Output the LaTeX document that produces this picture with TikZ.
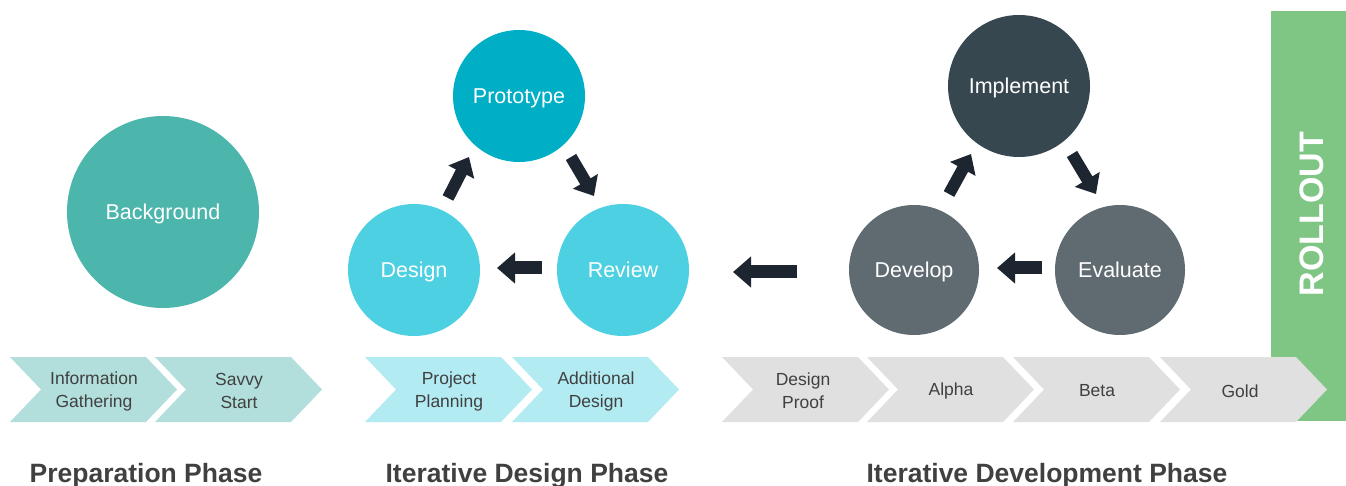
\documentclass[tikz,border=0pt]{standalone}
\usepackage{fontspec}
\setmainfont{Liberation Sans}
\usetikzlibrary{arrows.meta}
\definecolor{cBack}{HTML}{4DB6AC}
\definecolor{cProto}{HTML}{00AFC6}
\definecolor{cDes}{HTML}{4DD0E1}
\definecolor{cImpl}{HTML}{37474F}
\definecolor{cDev}{HTML}{5F6B71}
\definecolor{cArrow}{HTML}{1C2530}
\definecolor{cChevA}{HTML}{B2DFDB}
\definecolor{cChevB}{HTML}{B2EBF2}
\definecolor{cChevC}{HTML}{E0E0E0}
\definecolor{cRoll}{HTML}{7FC685}
\definecolor{cText}{HTML}{404040}
\newcommand{\chevron}[3]{% x, colour, name
  \fill[#2] (#1,357) -- ++(136,0) -- ++(31,32.5) -- ++(-31,32.5) -- ++(-136,0) -- ++(31,-32.5) -- cycle;
  \coordinate (#3) at (#1+84,391);
}
\begin{document}
\begin{tikzpicture}[x=1pt,y=-1pt,
  circ/.style={circle, draw=none, inner sep=0pt, text=white, text height=15.5pt, text depth=0pt, font=\fontsize{21.5}{25}\selectfont},
  chevlabel/.style={text=cText, align=center, inner sep=0pt, font=\fontsize{17.5}{23}\selectfont},
  phasetitle/.style={text=cText, anchor=base, inner sep=0pt, font=\fontsize{26.5}{30}\selectfont\bfseries},
  blockarrow/.style={draw=cArrow, line width=13pt, -{Triangle[width=30pt,length=18pt]}},
  smallarrow/.style={draw=cArrow, line width=12pt, -{Triangle[width=28pt,length=17pt]}}
]
\useasboundingbox (0,0) rectangle (1346,486);

% rollout bar
\fill[cRoll] (1271,11) rectangle (1346,421);
\node[rotate=90, text=white, inner sep=0pt, font=\fontsize{34}{40}\selectfont\bfseries] (rollout) at (1312,214) {ROLLOUT};

% circles
\node[circ, fill=cBack, minimum size=192pt] (background) at (163,212) {Background};
\node[circ, fill=cProto, minimum size=132pt] (prototype) at (519,96) {Prototype};
\node[circ, fill=cDes, minimum size=132pt] (design) at (414,270) {Design};
\node[circ, fill=cDes, minimum size=132pt] (review) at (623,270) {Review};
\node[circ, fill=cImpl, minimum size=142pt] (implement) at (1019,86) {Implement};
\node[circ, fill=cDev, minimum size=130pt] (develop) at (914,270) {Develop};
\node[circ, fill=cDev, minimum size=130pt] (evaluate) at (1120,270) {Evaluate};

% arrows
\coordinate (a1s) at (448,198); \coordinate (a1e) at (469,157);
\coordinate (a2s) at (571,157); \coordinate (a2e) at (594,196);
\coordinate (a3s) at (542,268); \coordinate (a3e) at (497,268);
\coordinate (a4s) at (797,272); \coordinate (a4e) at (733,272);
\coordinate (a5s) at (949,194); \coordinate (a5e) at (971,154);
\coordinate (a6s) at (1072,154); \coordinate (a6e) at (1096,194);
\coordinate (a7s) at (1042,268); \coordinate (a7e) at (997,268);
\draw[smallarrow] (a1s) -- (a1e);
\draw[smallarrow] (a2s) -- (a2e);
\draw[blockarrow] (a3s) -- (a3e);
\draw[blockarrow] (a4s) -- (a4e);
\draw[smallarrow] (a5s) -- (a5e);
\draw[smallarrow] (a6s) -- (a6e);
\draw[blockarrow] (a7s) -- (a7e);

% chevrons
\chevron{10}{cChevA}{c1}
\chevron{155}{cChevA}{c2}
\chevron{365}{cChevB}{c3}
\chevron{512}{cChevB}{c4}
\chevron{722}{cChevC}{c5}
\chevron{867}{cChevC}{c6}
\chevron{1013}{cChevC}{c7}
\chevron{1160}{cChevC}{c8}
\node[chevlabel] (t1) at (c1) {Information\\Gathering};
\node[chevlabel] (t2) at (c2) {Savvy\\Start};
\node[chevlabel] (t3) at (c3) {Project\\Planning};
\node[chevlabel] (t4) at (c4) {Additional\\Design};
\node[chevlabel] (t5) at ([xshift=-3pt]c5) {Design\\Proof};
\node[chevlabel] (t6) at (c6) {Alpha};
\node[chevlabel] (t7) at (c7) {Beta};
\node[chevlabel] (t8) at ([xshift=-4pt]c8) {Gold};

% phase titles
\node[phasetitle] (p1) at (146,482) {Preparation Phase};
\node[phasetitle] (p2) at (527,482) {Iterative Design Phase};
\node[phasetitle] (p3) at (1047,482) {Iterative Development Phase};
\end{tikzpicture}
\end{document}
